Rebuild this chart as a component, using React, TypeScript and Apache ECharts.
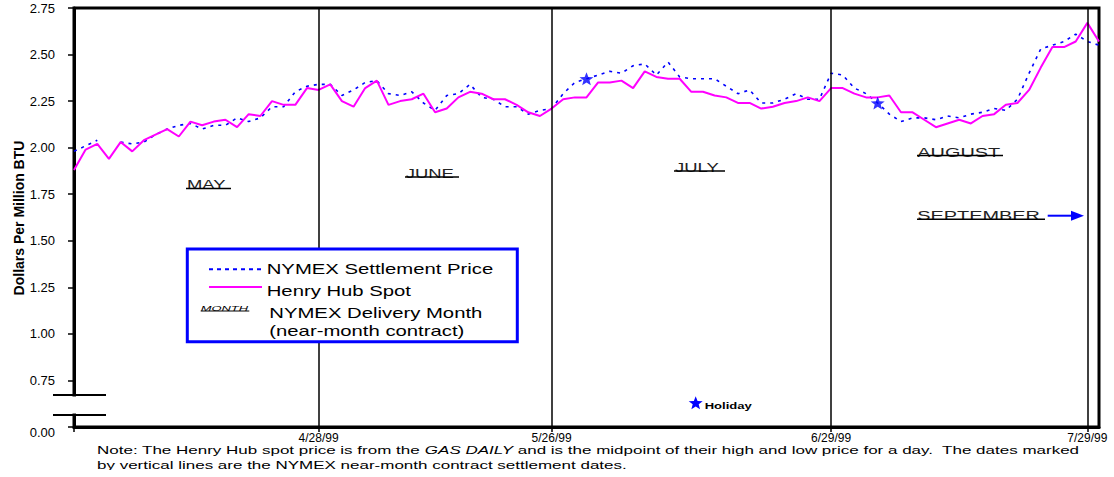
import React, { useEffect, useRef } from "react";
import * as echarts from "echarts";

// ---------- data ----------
const dates = [
  "3/30/99", "3/31/99", "4/1/99", "4/2/99", "4/5/99", "4/6/99", "4/7/99", "4/8/99", "4/9/99",
  "4/12/99", "4/13/99", "4/14/99", "4/15/99", "4/16/99", "4/19/99", "4/20/99", "4/21/99", "4/22/99", "4/23/99",
  "4/26/99", "4/27/99", "4/28/99", "4/29/99", "4/30/99",
  "5/3/99", "5/4/99", "5/5/99", "5/6/99", "5/7/99", "5/10/99", "5/11/99", "5/12/99", "5/13/99", "5/14/99",
  "5/17/99", "5/18/99", "5/19/99", "5/20/99", "5/21/99", "5/24/99", "5/25/99", "5/26/99", "5/27/99", "5/28/99", "5/31/99",
  "6/1/99", "6/2/99", "6/3/99", "6/4/99", "6/7/99", "6/8/99", "6/9/99", "6/10/99", "6/11/99",
  "6/14/99", "6/15/99", "6/16/99", "6/17/99", "6/18/99", "6/21/99", "6/22/99", "6/23/99", "6/24/99", "6/25/99",
  "6/28/99", "6/29/99", "6/30/99",
  "7/1/99", "7/2/99", "7/5/99", "7/6/99", "7/7/99", "7/8/99", "7/9/99", "7/12/99", "7/13/99", "7/14/99", "7/15/99", "7/16/99",
  "7/19/99", "7/20/99", "7/21/99", "7/22/99", "7/23/99", "7/26/99", "7/27/99", "7/28/99", "7/29/99", "7/30/99",
];

const nymexSettlement: (number | null)[] = [
  1.98, 2.01, 2.04, null, 2.03, 2.02, 2.03, 2.07, 2.10, 2.12,
  2.13, 2.10, 2.12, 2.12, 2.16, 2.14, 2.16, 2.22, 2.22, 2.30,
  2.33, 2.34, 2.34, 2.28, 2.31, 2.35, 2.36, 2.29, 2.28, 2.30,
  2.24, 2.20, 2.28, 2.29, 2.34, 2.27, 2.26, 2.22, 2.22, 2.18,
  2.20, 2.21, 2.29, 2.35, 2.37, 2.39, 2.41, 2.40, 2.44, 2.45,
  2.39, 2.46, 2.38, 2.37, 2.37, 2.37, 2.33, 2.29, 2.31, 2.24,
  2.24, 2.26, 2.29, 2.26, 2.26, 2.40, 2.39, 2.32, 2.29, 2.24,
  2.18, 2.14, 2.16, 2.16, 2.15, 2.17, 2.16, 2.18, 2.19, 2.21,
  2.20, 2.26, 2.40, 2.53, 2.55, 2.57, 2.61, 2.57, 2.55,
];

const henryHubSpot: number[] = [
  1.88, 1.99, 2.02, 1.94, 2.03, 1.98, 2.04, 2.07, 2.10, 2.06,
  2.14, 2.12, 2.14, 2.15, 2.11, 2.18, 2.17, 2.25, 2.23, 2.23,
  2.32, 2.31, 2.34, 2.25, 2.22, 2.32, 2.36, 2.23, 2.25, 2.26,
  2.29, 2.19, 2.21, 2.27, 2.30, 2.29, 2.26, 2.26, 2.23, 2.19,
  2.17, 2.21, 2.26, 2.27, 2.27, 2.35, 2.35, 2.36, 2.32, 2.41,
  2.38, 2.37, 2.37, 2.30, 2.30, 2.28, 2.27, 2.24, 2.24, 2.21,
  2.22, 2.24, 2.25, 2.27, 2.25, 2.32, 2.32, 2.29, 2.27, 2.27,
  2.28, 2.19, 2.19, 2.15, 2.11, 2.13, 2.15, 2.13, 2.17, 2.18,
  2.23, 2.24, 2.31, 2.43, 2.54, 2.54, 2.57, 2.67, 2.57,
];

const settlementDates = ["4/28/99", "5/26/99", "6/29/99", "7/29/99"];
const holidayDates = ["5/31/99", "7/5/99"];
const deliveryMonths = ["MAY", "JUNE", "JULY", "AUGUST", "SEPTEMBER"];
const seriesNames = ["NYMEX Settlement Price", "Henry Hub Spot"];
const yBreakValue = 0.5;
const yBreakLabel = "0.00";

// ---------- styling / layout ----------
const FONT = "Liberation Sans, Arial, Helvetica, sans-serif";
const BLUE = "#0000ff";
const PINK = "#ff00ff";
const STAR_D =
  "M12 1L14.9 8.6L23 9L16.7 14.1L18.8 22L12 17.6L5.2 22L7.3 14.1L1 9L9.1 8.6Z";

try {
  echarts.graphic.registerShape("holidayStar", echarts.graphic.extendPath(STAR_D, {}));
} catch (e) {
  /* already registered */
}

// month label layout: [left x, cap-center y, scaleX, underline x1, underline x2, underline y]
const monthLayout: number[][] = [
  [187, 184.7, 1.42, 186, 231, 188.5],
  [405.7, 173.3, 1.42, 405, 459, 177],
  [675, 167.7, 1.42, 674, 725, 171],
  [917.3, 152.5, 1.53, 917, 1003, 155.5],
  [917.3, 215.7, 1.53, 917, 1045, 219.3],
];

function buildGraphics(): any[] {
  const z = 100;
  const g: any[] = [];

  // y axis title
  g.push({
    type: "text",
    x: 18.5,
    y: 218,
    rotation: Math.PI / 2,
    z,
    style: {
      text: "Dollars Per Million BTU",
      fontSize: 14,
      fontWeight: "bold",
      fontFamily: FONT,
      fill: "#000",
      align: "center",
      verticalAlign: "middle",
      backgroundColor: "#fff",
    },
  });

  // axis break
  g.push({ type: "rect", z, shape: { x: 69, y: 396.5, width: 10, height: 17 }, style: { fill: "#fff" } });
  g.push({ type: "line", z, shape: { x1: 53, y1: 395, x2: 106, y2: 395 }, style: { stroke: "#000", lineWidth: 2 } });
  g.push({ type: "line", z, shape: { x1: 53, y1: 415, x2: 106, y2: 415 }, style: { stroke: "#000", lineWidth: 2 } });

  // delivery month labels
  deliveryMonths.forEach((m, i) => {
    const [x, y, sx, u1, u2, uy] = monthLayout[i];
    g.push({
      type: "text",
      x,
      y,
      scaleX: sx,
      z,
      style: { text: m, fontSize: 13, fontFamily: FONT, fill: "#222", align: "left", verticalAlign: "middle" },
    });
    g.push({ type: "line", z, shape: { x1: u1, y1: uy, x2: u2, y2: uy }, style: { stroke: "#000", lineWidth: 1.5 } });
  });
  // arrow after SEPTEMBER
  g.push({ type: "line", z, shape: { x1: 1047.7, y1: 215.7, x2: 1073, y2: 215.7 }, style: { stroke: BLUE, lineWidth: 2 } });
  g.push({
    type: "polygon",
    z,
    shape: { points: [[1071, 210.7], [1084, 215.7], [1071, 220.7]] },
    style: { fill: BLUE },
  });

  // legend box
  g.push({
    type: "rect",
    z,
    shape: { x: 187.3, y: 249, width: 330, height: 92.7 },
    style: { fill: "#fff", stroke: BLUE, lineWidth: 3 },
  });
  g.push({
    type: "line",
    z: z + 1,
    shape: { x1: 209, y1: 269.3, x2: 262, y2: 269.3 },
    style: { stroke: BLUE, lineWidth: 2, lineDash: [4, 4] },
  });
  g.push({
    type: "line",
    z: z + 1,
    shape: { x1: 209, y1: 287, x2: 262, y2: 287 },
    style: { stroke: PINK, lineWidth: 2 },
  });
  const legendText = (text: string, x: number, y: number) => ({
    type: "text",
    x,
    y,
    scaleX: 1.45,
    z: z + 1,
    style: { text, fontSize: 14, fontFamily: FONT, fill: "#000", align: "left", verticalAlign: "middle" },
  });
  g.push(legendText(seriesNames[0], 266.7, 269.3));
  g.push(legendText(seriesNames[1], 266.7, 291));
  g.push(legendText("NYMEX Delivery Month", 269.3, 313.3));
  g.push(legendText("(near-month contract)", 269.3, 331));
  g.push({
    type: "text",
    x: 200.7,
    y: 308.8,
    scaleX: 1.85,
    z: z + 1,
    style: {
      text: "MONTH",
      fontSize: 7,
      fontStyle: "italic",
      fontFamily: FONT,
      fill: "#000",
      align: "left",
      verticalAlign: "middle",
    },
  });
  g.push({
    type: "line",
    z: z + 1,
    shape: { x1: 200.7, y1: 311, x2: 249.3, y2: 311 },
    style: { stroke: "#000", lineWidth: 1 },
  });

  // holiday annotation
  const s = 14 / 22;
  g.push({
    type: "holidayStar",
    x: 695.7 - 12 * s,
    y: 402.7 - 11.5 * (13 / 21),
    scaleX: s,
    scaleY: 13 / 21,
    z,
    style: { fill: BLUE },
  });
  g.push({
    type: "text",
    x: 704.7,
    y: 405.7,
    scaleX: 1.45,
    z,
    style: {
      text: "Holiday",
      fontSize: 9,
      fontWeight: "bold",
      fontFamily: FONT,
      fill: "#000",
      align: "left",
      verticalAlign: "middle",
    },
  });

  // note
  g.push({
    type: "text",
    x: 97,
    y: 450.5,
    scaleX: 1.7,
    z,
    style: {
      text:
        "Note: The Henry Hub spot price is from the {it|GAS DAILY} and is the midpoint of their high and low price for a day.  The dates marked",
      rich: { it: { fontStyle: "italic", fontSize: 10, fontFamily: FONT, fill: "#000" } },
      fontSize: 10,
      fontFamily: FONT,
      fill: "#000",
      align: "left",
      verticalAlign: "middle",
    },
  });
  g.push({
    type: "text",
    x: 97,
    y: 465.5,
    scaleX: 1.7,
    z,
    style: {
      text: "by vertical lines are the NYMEX near-month contract settlement dates.",
      fontSize: 10,
      fontFamily: FONT,
      fill: "#000",
      align: "left",
      verticalAlign: "middle",
    },
  });
  g.push({ type: "rect", z: z + 2, shape: { x: 0, y: 470, width: 1114, height: 7 }, style: { fill: "#fff" } });

  return g;
}

export default function App() {
  const ref = useRef<HTMLDivElement>(null);

  useEffect(() => {
    document.body.style.margin = "0";
    if (!ref.current) return;
    const chart = echarts.init(ref.current, undefined, { renderer: "svg" });

    const option: any = {
      animation: false,
      backgroundColor: "#fff",
      textStyle: { fontFamily: FONT },
      grid: {
        left: 74,
        right: 15,
        top: 8,
        bottom: 50,
        show: true,
        borderColor: "#000",
        borderWidth: 3,
        backgroundColor: "transparent",
      },
      xAxis: {
        type: "category",
        data: dates,
        boundaryGap: false,
        axisLine: { show: true, lineStyle: { color: "#000", width: 3 } },
        axisTick: {
          show: true,
          length: 5,
          interval: (i: number, v: string) => i === 0 || settlementDates.includes(v),
          lineStyle: { color: "#000", width: 1.5 },
        },
        axisLabel: {
          interval: (_i: number, v: string) => settlementDates.includes(v),
          fontSize: 12,
          fontFamily: FONT,
          color: "#000",
          margin: 5,
        },
        splitLine: { show: false },
      },
      yAxis: {
        type: "value",
        min: 0.5,
        max: 2.75,
        interval: 0.25,
        axisLine: { show: true, lineStyle: { color: "#000", width: 3 } },
        axisTick: { show: true, length: 6, lineStyle: { color: "#000", width: 1.5 } },
        axisLabel: {
          margin: 19,
          fontSize: 13,
          fontFamily: FONT,
          color: "#000",
          formatter: (v: number) => (Math.abs(v - yBreakValue) < 1e-9 ? `{low|${yBreakLabel}}` : v.toFixed(2)),
          rich: { low: { fontSize: 13, fontFamily: FONT, color: "#000", padding: [11, 0, 0, 0] } },
        },
        splitLine: { show: false },
      },
      series: [
        {
          name: seriesNames[0],
          type: "line",
          data: nymexSettlement,
          symbol: "none",
          silent: true,
          connectNulls: false,
          lineStyle: { color: BLUE, width: 1.6, type: [3, 5] },
          z: 3,
          markLine: {
            silent: true,
            symbol: "none",
            label: { show: false },
            lineStyle: { color: "#000", width: 1.5, type: "solid" },
            data: settlementDates.map((d) => ({ xAxis: d })),
          },
        },
        {
          name: seriesNames[1],
          type: "line",
          data: henryHubSpot,
          symbol: "none",
          silent: true,
          lineStyle: { color: PINK, width: 2 },
          z: 4,
        },
        {
          name: "Holiday",
          type: "scatter",
          silent: true,
          data: holidayDates.map((d) => [d, nymexSettlement[dates.indexOf(d)]]),
          symbol: "path://" + STAR_D,
          symbolSize: [14, 13],
          itemStyle: { color: BLUE },
          z: 5,
        },
      ],
      graphic: buildGraphics(),
    };

    chart.setOption(option);
    return () => chart.dispose();
  }, []);

  return <div ref={ref} style={{ width: 1114, height: 477 }} />;
}
